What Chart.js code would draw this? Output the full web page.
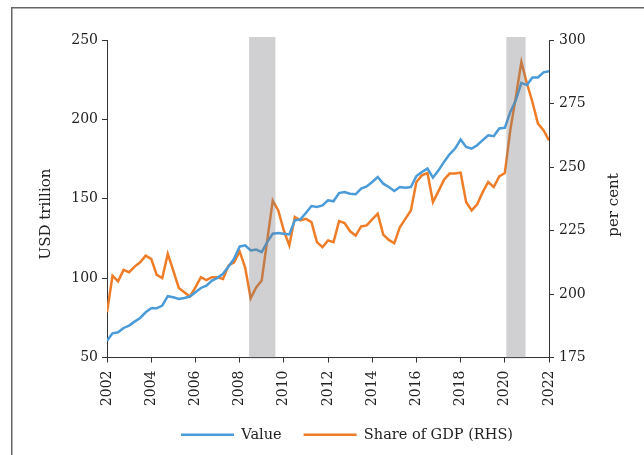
<!DOCTYPE html>
<html>
<head>
<meta charset="utf-8">
<script src="https://cdn.jsdelivr.net/npm/chart.js@4/dist/chart.umd.min.js"></script>
<style>
html,body{margin:0;padding:0;background:#fff;}
#wrap{width:644px;height:455px;}
</style>
</head>
<body>
<div id="wrap"><canvas id="c" width="644" height="455"></canvas></div>
<script>
// Quarterly observations, 2002 Q1 to 2022 Q1
const startYear = 2002;
const valueUSDtn = [60.6,65.2,65.9,68.6,70.1,72.6,74.9,78.5,81.0,81.0,82.7,88.6,87.9,86.9,87.5,88.4,
  91.1,93.8,95.3,98.5,100.2,102.7,107.3,112.2,119.9,120.6,117.4,118.0,116.4,122.7,128.0,128.4,
  128.0,127.5,136.4,137.0,141.0,145.4,144.8,145.8,149.0,148.4,153.6,154.2,153.2,152.8,156.4,157.8,
  160.6,163.7,159.5,157.4,154.9,157.4,157.0,157.4,164.3,166.9,169.0,163.3,167.9,173.2,178.0,181.6,
  187.3,182.6,181.6,183.7,186.9,190.0,189.4,194.3,194.7,204.7,212.1,223.0,221.6,226.4,226.4,229.6,230.4];
const shareOfGDP = [192.8,207.2,205.0,209.5,208.6,210.8,212.5,215.1,213.8,207.5,206.3,215.8,209.2,202.4,200.7,199.0,
  202.6,206.6,205.5,206.6,206.6,205.9,211.2,212.5,216.8,210.5,198.3,202.6,205.3,221.1,236.8,232.9,
  225.0,219.1,230.3,229.0,229.6,228.3,220.4,218.4,221.1,220.4,228.7,227.9,224.7,223.0,226.6,227.0,
  229.4,231.6,223.4,221.3,220.0,226.3,229.6,232.9,244.1,246.7,247.6,236.2,240.5,245.0,247.4,247.4,
  247.8,236.2,232.9,235.3,240.1,244.1,242.1,246.3,247.6,264.5,277.6,291.4,282.9,275.6,267.1,264.5,260.5];
const quarters = valueUSDtn.map((_, i) => startYear + i / 4);
const recessions = [[2008.43, 2009.62], [2020.07, 2020.94]];
const xTicks = [2002, 2022, 2];      // min, max, step
const leftTicks = [50, 250, 50];
const rightTicks = [175, 300, 25];
const seriesNames = ['Value', 'Share of GDP (RHS)'];
const axisTitles = ['USD trillion', 'per cent'];

const FONT = 'DejaVu Serif';
const TXT = '#222';
const AX = '#333';
const BLUE = '#4A9BD8';
const ORANGE = '#EF7D28';

const framePlugin = {
  id: 'frame',
  beforeDraw(chart) {
    const ctx = chart.ctx;
    ctx.save();
    ctx.strokeStyle = '#666';
    ctx.lineWidth = 1.5;
    ctx.beginPath();
    ctx.moveTo(11.75, 470);
    ctx.lineTo(11.75, 7.75);
    ctx.lineTo(660, 7.75);
    ctx.stroke();
    ctx.restore();
  }
};

const shadePlugin = {
  id: 'shade',
  afterDatasetsDraw(chart) {
    const ctx = chart.ctx, xs = chart.scales.x, a = chart.chartArea;
    ctx.save();
    ctx.fillStyle = 'rgba(120,120,125,0.35)';
    recessions.forEach(([s, e]) => {
      const x0 = xs.getPixelForValue(s), x1 = xs.getPixelForValue(e);
      ctx.fillRect(x0, a.top - 3, x1 - x0, a.bottom - a.top + 4);
    });
    ctx.restore();
  }
};

const titlePlugin = {
  id: 'axisTitles',
  afterDraw(chart) {
    const ctx = chart.ctx;
    ctx.save();
    ctx.fillStyle = TXT;
    ctx.font = '15px "' + FONT + '"';
    ctx.textAlign = 'center';
    ctx.textBaseline = 'middle';
    ctx.translate(46, 214);
    ctx.rotate(-Math.PI / 2);
    ctx.fillText(axisTitles[0], 0, 0);
    ctx.restore();
    ctx.save();
    ctx.fillStyle = TXT;
    ctx.font = '15px "' + FONT + '"';
    ctx.textAlign = 'center';
    ctx.textBaseline = 'middle';
    ctx.translate(614, 205);
    ctx.rotate(-Math.PI / 2);
    ctx.fillText(axisTitles[1], 0, 0);
    ctx.restore();
  }
};

const tickFont = { family: FONT, size: 14 };

new Chart(document.getElementById('c'), {
  type: 'line',
  data: {
    datasets: [
      { label: seriesNames[0], data: quarters.map((x, i) => ({ x, y: valueUSDtn[i] })),
        borderColor: BLUE, backgroundColor: BLUE, borderWidth: 2.5, pointRadius: 0, tension: 0, yAxisID: 'y' },
      { label: seriesNames[1], data: quarters.map((x, i) => ({ x, y: shareOfGDP[i] })),
        borderColor: ORANGE, backgroundColor: ORANGE, borderWidth: 2.5, pointRadius: 0, tension: 0, yAxisID: 'y1' }
    ]
  },
  options: {
    responsive: false,
    animation: false,
    devicePixelRatio: 1,
    layout: { padding: { left: 50, right: 0, top: 40, bottom: 3 } },
    plugins: {
      tooltip: { enabled: false },
      legend: {
        position: 'bottom',
        labels: {
          font: { family: FONT, size: 14.5 },
          color: TXT,
          boxWidth: 53,
          boxHeight: 2.5,
          padding: 22,
          generateLabels(chart) {
            const items = Chart.defaults.plugins.legend.labels.generateLabels(chart);
            items.forEach(it => { it.lineWidth = 0; it.strokeStyle = 'rgba(0,0,0,0)'; });
            return items;
          }
        }
      }
    },
    scales: {
      x: {
        type: 'linear', min: xTicks[0], max: xTicks[1],
        afterFit(s) { s.height = 48; },
        border: { display: true, color: AX, width: 1 },
        grid: { display: true, drawOnChartArea: false, drawTicks: true, tickLength: 5, color: AX },
        ticks: { stepSize: xTicks[2], autoSkip: false, maxRotation: 90, minRotation: 90, padding: 8,
          font: tickFont, color: TXT, callback: v => String(v) }
      },
      y: {
        position: 'left', min: leftTicks[0], max: leftTicks[1],
        afterFit(s) { s.width = 57; },
        border: { display: true, color: AX, width: 1 },
        grid: { display: true, drawOnChartArea: false, drawTicks: true, tickLength: 5, color: AX },
        ticks: { stepSize: leftTicks[2], padding: 4, font: tickFont, color: TXT }
      },
      y1: {
        position: 'right', min: rightTicks[0], max: rightTicks[1],
        afterFit(s) { s.width = 95; },
        border: { display: true, color: AX, width: 1 },
        grid: { display: true, drawOnChartArea: false, drawTicks: true, tickLength: 5, color: AX },
        ticks: { stepSize: rightTicks[2], padding: 5, font: tickFont, color: TXT }
      }
    }
  },
  plugins: [framePlugin, shadePlugin, titlePlugin]
});
</script>
</body>
</html>
